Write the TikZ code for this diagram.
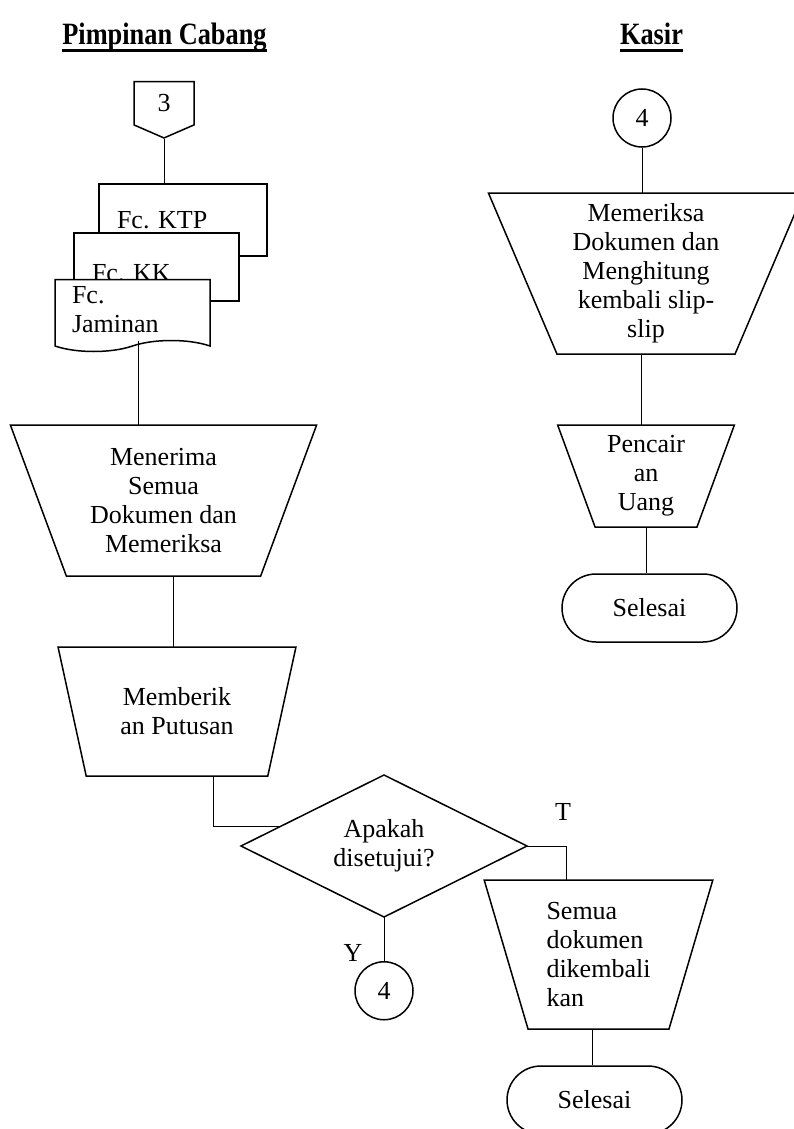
\documentclass[tikz,border=0pt]{standalone}
\usepackage{fontspec}
\setmainfont{Liberation Serif}
\newfontfamily\headfont[FakeStretch=0.85]{Liberation Serif}
\usepackage{tikz}
\usetikzlibrary{shapes.geometric,shapes.misc,shapes.symbols,positioning,calc}

\begin{document}
\begin{tikzpicture}[x=1pt,y=-1pt,font=\fontsize{26}{29}\selectfont,
    garis/.style={line width=0.9pt}]
  \tikzstyle{proses} = [draw,line width=1.5pt,trapezium,trapezium stretches=true,shape border rotate=180,align=center,inner sep=0pt,outer sep=0pt];
  \tikzstyle{dok} = [draw,fill=white,line width=1.5pt,inner sep=0pt,outer sep=0pt,align=left];
  \tikzset{term/.style={draw,line width=1.5pt,rounded rectangle,minimum width=175pt,minimum height=68pt,inner sep=0pt},
    konek/.style={draw,circle,line width=1.5pt,minimum size=58pt,inner sep=0pt},
    keputusan/.style={draw,diamond,aspect=2,line width=1.5pt,minimum width=286pt,minimum height=142pt,align=center,inner sep=0pt,outer sep=0pt},
    judul/.style={font=\headfont\bfseries\fontsize{31}{31}\selectfont,inner sep=0pt,anchor=base}};
  \useasboundingbox (0,0) rectangle (793,1129);
  % judul kolom
  \node[judul] (hpim) at (164.5,44.5) {Pimpinan Cabang};
  \node[judul] (hkas) at (651.5,44.5) {Kasir};
  \draw[line width=2.5pt] ([yshift=-6pt]hpim.base west) -- ([yshift=-6pt]hpim.base east);
  \draw[line width=2.5pt] ([yshift=-6pt]hkas.base west) -- ([yshift=-6pt]hkas.base east);
  % pimpinan cabang
  \node[draw,line width=1.5pt,signal,signal to=south,signal pointer angle=133,minimum width=60pt,minimum height=46pt,inner sep=0pt,anchor=north] (off3) at (164,81) {3};
  \node[dok,minimum width=168pt,minimum height=72pt,text width=132pt] (ktp) at (183,220) {Fc.\ KTP};
  \node[dok,minimum width=165pt,minimum height=68pt,text width=129pt,text height=30pt] (kk) at (156.5,267) {Fc.\ KK};
  \node[dok,tape,tape bend top=none,tape bend bottom=in and out,tape bend height=11pt,minimum width=155pt,minimum height=72pt,text width=121pt] (jam) at (132.5,310) {Fc.\\Jaminan};
  \node[proses,trapezium angle=68,minimum width=307pt,minimum height=151pt] (mener) at (163.5,500.5) {Menerima\\Semua\\Dokumen dan\\Memeriksa};
  \node[proses,trapezium angle=69.6,minimum width=238pt,minimum height=129pt] (memb) at (177,711.5) {Memberik\\an Putusan};
  \node[keputusan] (dia) at (384,846) {Apakah\\disetujui?};
  \node[konek,below=44pt of dia] (conb) {4};
  \node (ly) at (353,953) {Y};
  \node (lt) at (563,812) {T};
  \node[proses,trapezium angle=72.8,minimum width=229pt,minimum height=149pt,align=left] (semua) at (598.5,954.5) {Semua\\dokumen\\dikembali\\kan};
  \node[term] (sel2) at (594.5,1100) {Selesai};
  % kasir
  \node[konek] (cona) at (642,118) {4};
  \node[proses,trapezium angle=68,minimum width=316pt,minimum height=161pt] (memer) at (646,273.5) {Memeriksa\\Dokumen dan\\Menghitung\\kembali slip-\\slip};
  \node[proses,trapezium angle=70.5,minimum width=177pt,minimum height=102pt,below=71pt of memer] (pencair) {Pencair\\an\\Uang};
  \node[term] (sel1) at (649.5,608) {Selesai};
  % garis
  \draw[garis] (off3.south) -- (off3.south |- ktp.north);
  \draw[garis] ([xshift=5.5pt]jam.south) -- ([xshift=5.5pt]jam.south |- mener.90);
  \draw[garis] ([xshift=-4pt]memb.90) -- ([xshift=-4pt]memb.90 |- mener.270);
  \coordinate (masuk) at ($(dia.west)!0.28!(dia.north)$);
  \draw[garis] ([xshift=36pt]memb.270) |- (masuk);
  \draw[garis] (dia.east) -| ([xshift=-32.5pt]semua.90);
  \draw[garis] (dia) -- (conb);
  \draw[garis] ([xshift=-6.5pt]semua.270) -- ([xshift=-6.5pt]semua.270 |- sel2.north);
  \draw[garis] (cona) -- (cona.south |- memer.90);
  \draw[garis] ([xshift=-4.5pt]pencair.90) -- ([xshift=-4.5pt]pencair.90 |- memer.270);
  \draw[garis] (pencair.270) -- (pencair.270 |- sel1.north);
\end{tikzpicture}
\end{document}
